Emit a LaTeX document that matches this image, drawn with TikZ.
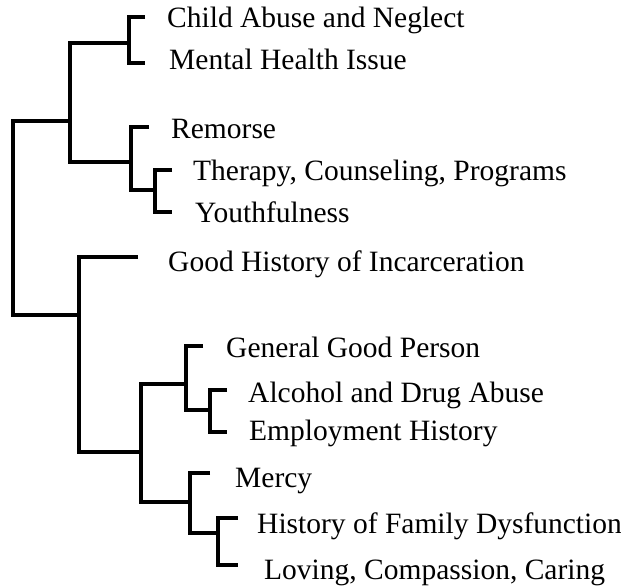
\documentclass[tikz,border=0pt]{standalone}
\usepackage{fontspec}
\setmainfont{Liberation Serif}
\begin{document}
\begin{tikzpicture}[x=1pt,y=-1pt,
  branch/.style={line width=3.8pt, line join=miter},
  leaf/.style={anchor=base west, inner sep=0pt, font=\fontsize{29.5}{32}\selectfont}]
\useasboundingbox (0,0) rectangle (621,586);

% labels
\node[leaf] (l1)  at (167,28)  {Child Abuse and Neglect};
\node[leaf] (l2)  at (169,70)  {Mental Health Issue};
\node[leaf] (l3)  at (171,138) {Remorse};
\node[leaf] (l4)  at (193,180) {Therapy, Counseling, Programs};
\node[leaf] (l5)  at (195,222) {Youthfulness};
\node[leaf] (l6)  at (168,271) {Good History of Incarceration};
\node[leaf] (l7)  at (226,357) {General Good Person};
\node[leaf] (l8)  at (248,402) {Alcohol and Drug Abuse};
\node[leaf] (l9)  at (249,440) {Employment History};
\node[leaf] (l10) at (235,487) {Mercy};
\node[leaf] (l11) at (257,533) {History of Family Dysfunction};
\node[leaf] (l12) at (264,579) {Loving, Compassion, Caring};

% leaf tick ends
\coordinate (t1)  at (145,17);
\coordinate (t2)  at (145,63);
\coordinate (t3)  at (149,127);
\coordinate (t4)  at (172,170);
\coordinate (t5)  at (172,212);
\coordinate (t6)  at (138,257);
\coordinate (t7)  at (203,346);
\coordinate (t8)  at (227,390);
\coordinate (t9)  at (227,432);
\coordinate (t10) at (210,473);
\coordinate (t11) at (238,518);
\coordinate (t12) at (238,565);

% cluster joins
\coordinate (kA) at (129,43);
\coordinate (kB) at (70,121);
\coordinate (kC) at (131,162);
\coordinate (kD) at (155,190);
\coordinate (kR) at (13,220);
\coordinate (kE) at (79,315);
\coordinate (kF) at (141,452);
\coordinate (kG) at (186,384);
\coordinate (kH) at (210,410);
\coordinate (kI) at (190,502);
\coordinate (kJ) at (218,533);

% dendrogram
\draw[branch] (t1) -| (kA) |- (t2);
\draw[branch] (t4) -| (kD) |- (t5);
\draw[branch] (t3) -| (kC) |- (kD);
\draw[branch] (kA) -| (kB) |- (kC);
\draw[branch] (kB) -| (kR) |- (kE);
\draw[branch] (t8) -| (kH) |- (t9);
\draw[branch] (t7) -| (kG) |- (kH);
\draw[branch] (t11) -| (kJ) |- (t12);
\draw[branch] (t10) -| (kI) |- (kJ);
\draw[branch] (kG) -| (kF) |- (kI);
\draw[branch] (t6) -| (kE) |- (kF);
\end{tikzpicture}
\end{document}
